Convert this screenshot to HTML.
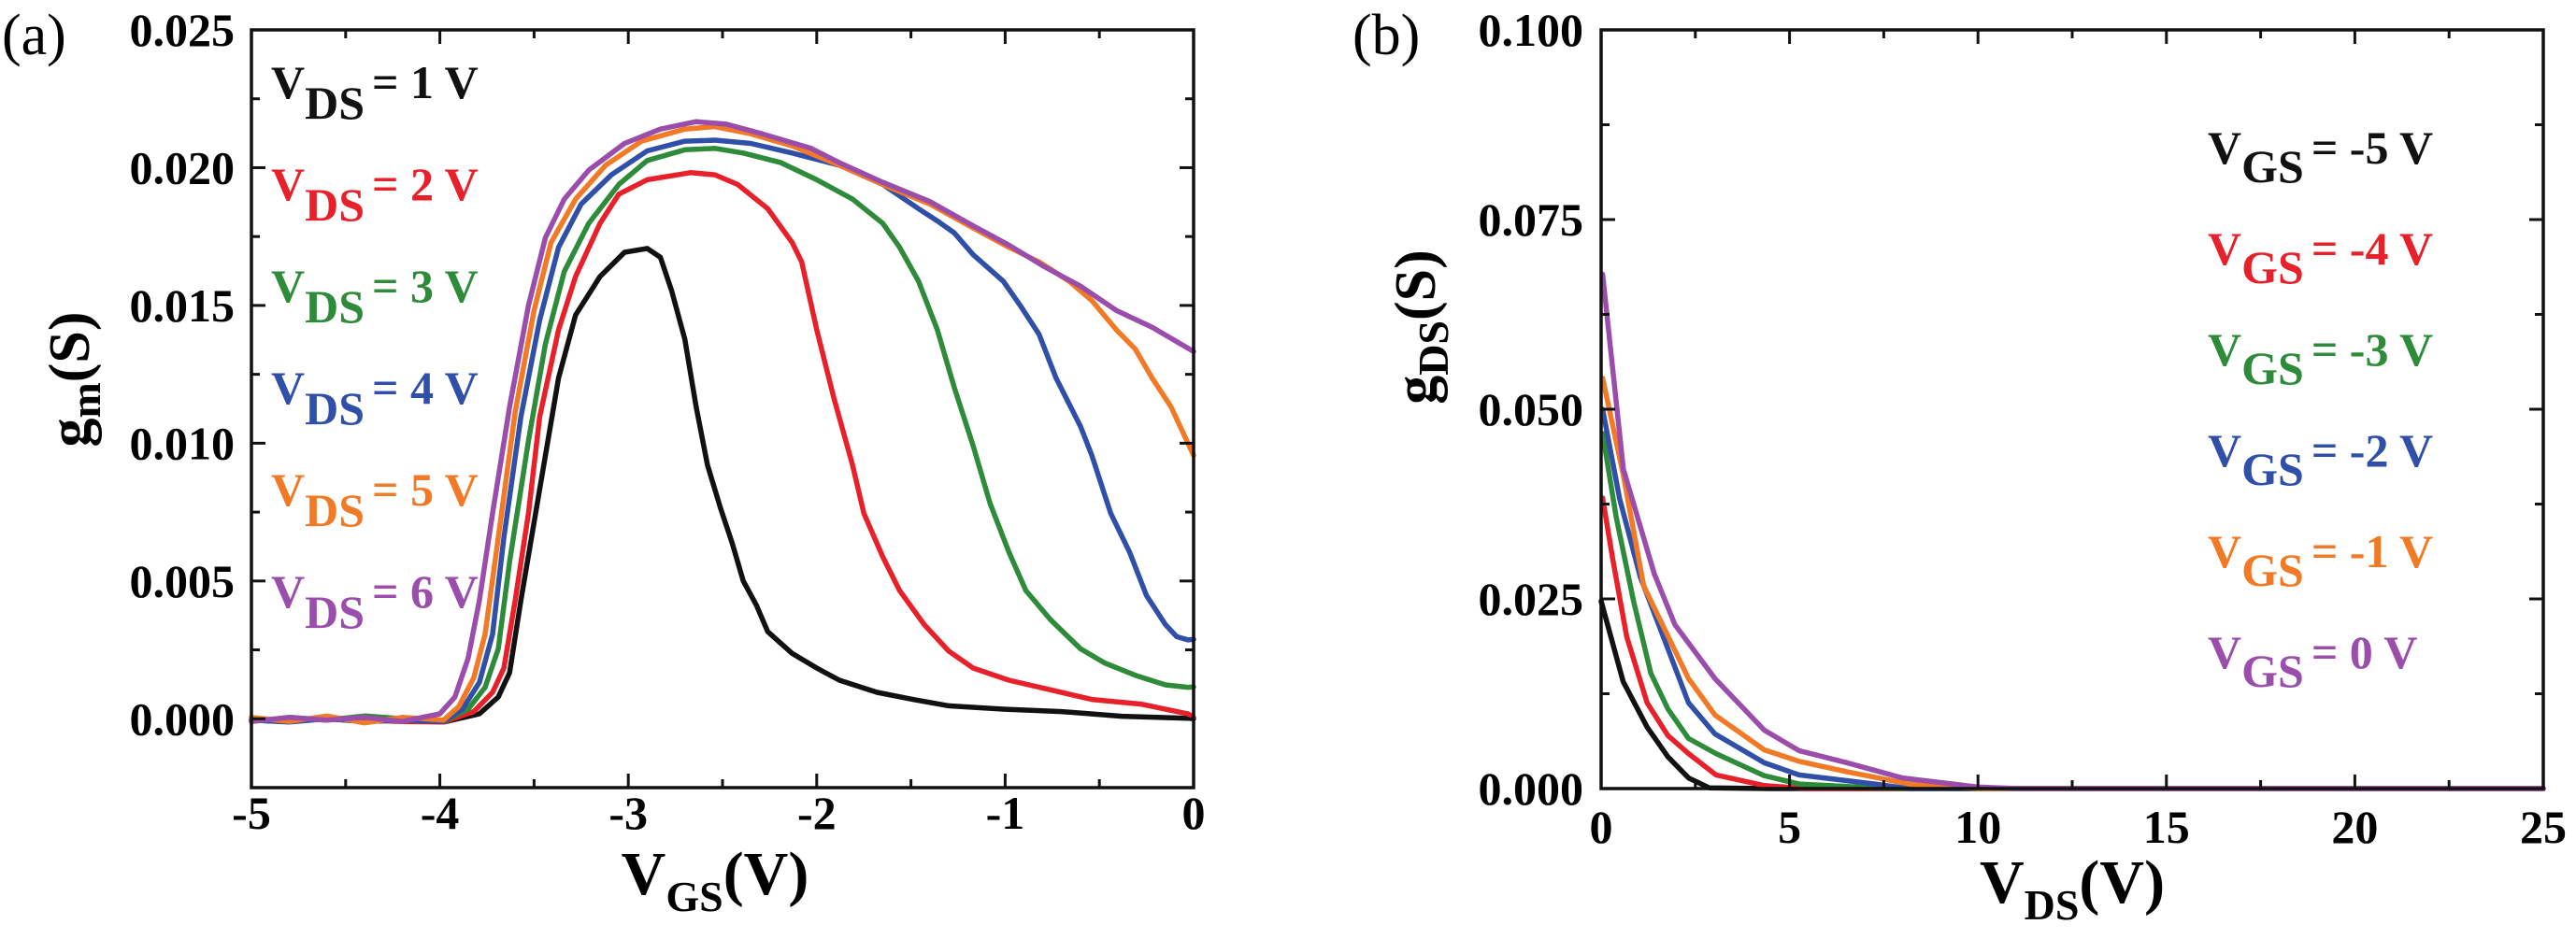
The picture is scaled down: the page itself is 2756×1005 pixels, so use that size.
<!DOCTYPE html>
<html><head><meta charset="utf-8"><style>
html,body{margin:0;padding:0;background:#fff;}
svg{display:block;font-family:"Liberation Serif",serif;}
</style></head><body>
<svg id="fig" width="2756" height="1005" viewBox="0 0 2756 1005" xmlns="http://www.w3.org/2000/svg">
<rect width="2756" height="1005" fill="#fff"/>
<text x="2" y="58" font-size="62">(a)</text>
<text x="1447" y="58" font-size="62">(b)</text>
<text transform="translate(95,406) rotate(-90)" text-anchor="middle" font-size="62" font-weight="bold">g<tspan font-size="46" dy="12">m</tspan><tspan dy="-12">(S)</tspan></text>
<text x="765" y="957" text-anchor="middle" font-size="66" font-weight="bold">V<tspan font-size="46" dy="18">GS</tspan><tspan dy="-18">(V)</tspan></text>
<text transform="translate(1535,350) rotate(-90)" text-anchor="middle" font-size="62" font-weight="bold">g<tspan font-size="46" dy="14">DS</tspan><tspan dy="-14">(S)</tspan></text>
<text x="2217" y="966" text-anchor="middle" font-size="66" font-weight="bold">V<tspan font-size="46" dy="18">DS</tspan><tspan dy="-18">(V)</tspan></text>
<g id="pa"></g>
<g id="pb"></g>
</svg>
<script>
// ---- Panel (a) data: gm (mS) vs VGS (V) ----
const aLegendVal = ['1','2','3','4','5','6'];
const aColors = ['#111111','#e8202a','#2e8b3a','#2f4fa8','#f27a26','#9b4dab'];
const aX1 = [-5,-4.8,-4.6,-4.4,-4.2,-3.98,-3.79,-3.69,-3.63,-3.57,-3.47,-3.37,-3.28,-3.15,-3.02,-2.90,-2.83,-2.77,-2.70,-2.64,-2.58,-2.51,-2.45,-2.39,-2.32,-2.26,-2.13,-2.00,-1.88,-1.68,-1.49,-1.30,-1.01,-0.70,-0.38,-0.03,0];
const aY1 = [-0.05,-0.1,0.0,-0.1,-0.05,-0.12,0.18,0.79,1.67,4.30,8.33,12.37,14.65,16.05,16.93,17.07,16.75,15.53,13.77,11.32,9.21,7.63,6.40,5.00,4.12,3.16,2.37,1.84,1.40,0.96,0.70,0.47,0.35,0.26,0.09,0.02,0.0];
const aX2 = [-5,-4.8,-4.6,-4.4,-4.2,-3.98,-3.82,-3.72,-3.66,-3.60,-3.53,-3.47,-3.37,-3.28,-3.15,-3.05,-2.90,-2.67,-2.54,-2.42,-2.26,-2.13,-2.08,-2.00,-1.91,-1.81,-1.75,-1.65,-1.56,-1.43,-1.30,-1.17,-0.98,-0.76,-0.54,-0.28,-0.03,0];
const aY2 = [0.0,-0.1,0.05,-0.05,-0.1,-0.12,0.26,0.96,1.84,4.30,7.46,10.96,14.12,16.05,17.98,19.04,19.56,19.82,19.74,19.39,18.51,17.28,16.58,14.12,11.67,9.21,7.46,5.88,4.65,3.42,2.46,1.84,1.40,1.05,0.70,0.53,0.18,0.05];
const aX3 = [-5,-4.8,-4.6,-4.4,-4.2,-3.98,-3.85,-3.76,-3.69,-3.63,-3.53,-3.44,-3.34,-3.21,-3.05,-2.90,-2.70,-2.54,-2.39,-2.19,-2.00,-1.81,-1.65,-1.56,-1.46,-1.36,-1.27,-1.17,-1.08,-0.98,-0.89,-0.76,-0.60,-0.47,-0.31,-0.15,-0.03,0];
const aY3 = [-0.1,0.05,-0.05,0.1,0.0,-0.1,0.35,1.14,2.54,5.70,10.09,13.60,16.23,17.98,19.39,20.26,20.65,20.70,20.53,20.18,19.56,18.86,17.98,17.11,15.88,14.12,12.02,9.91,7.81,6.05,4.65,3.60,2.54,2.02,1.58,1.23,1.14,1.16];
const aX4 = [-5,-4.8,-4.6,-4.4,-4.2,-3.98,-3.88,-3.79,-3.72,-3.66,-3.57,-3.47,-3.37,-3.25,-3.09,-2.90,-2.70,-2.54,-2.35,-2.13,-1.88,-1.65,-1.46,-1.36,-1.27,-1.17,-1.01,-0.92,-0.82,-0.73,-0.60,-0.54,-0.44,-0.34,-0.25,-0.15,-0.09,-0.03,0];
const aY4 = [-0.05,-0.12,0.0,-0.1,-0.05,-0.1,0.35,1.32,3.07,6.58,10.96,14.47,17.11,18.68,19.74,20.61,20.96,21.00,20.88,20.53,20.09,19.39,18.51,18.07,17.63,16.84,15.88,15.00,13.95,12.37,10.61,9.56,7.46,6.05,4.47,3.42,2.98,2.86,2.88];
const aX5 = [-5,-4.8,-4.6,-4.4,-4.2,-3.98,-3.90,-3.82,-3.76,-3.69,-3.60,-3.50,-3.41,-3.28,-3.12,-2.93,-2.70,-2.54,-2.35,-2.13,-1.88,-1.65,-1.40,-1.17,-0.98,-0.82,-0.66,-0.54,-0.41,-0.31,-0.22,-0.12,-0.06,0];
const aY5 = [0.05,-0.1,0.1,-0.15,0.05,-0.05,0.44,1.49,3.07,6.58,11.14,14.82,17.28,18.86,20.09,20.96,21.40,21.49,21.23,20.79,20.09,19.39,18.68,17.81,17.11,16.58,15.88,15.18,14.12,13.42,12.37,11.32,10.44,9.56];
const aX6 = [-5,-4.8,-4.6,-4.4,-4.2,-4.0,-3.92,-3.85,-3.79,-3.72,-3.63,-3.53,-3.44,-3.34,-3.21,-3.02,-2.83,-2.64,-2.48,-2.29,-2.03,-1.88,-1.65,-1.40,-1.17,-0.98,-0.79,-0.60,-0.41,-0.22,0];
const aY6 = [-0.1,0.05,-0.05,0.05,-0.1,0.18,0.79,2.19,4.30,7.46,11.32,15.00,17.46,18.86,19.91,20.88,21.40,21.67,21.58,21.23,20.70,20.18,19.47,18.77,17.89,17.19,16.40,15.70,14.82,14.21,13.33];
const aXticks = [-5,-4,-3,-2,-1,0];
const aXtickLabels = ['-5','-4','-3','-2','-1','0'];
const aYticks = [0,0.005,0.010,0.015,0.020,0.025];
const aYtickLabels = ['0.000','0.005','0.010','0.015','0.020','0.025'];

// ---- Panel (b) data: gDS (mS) vs VDS (V) ----
const bLegendVal = ['-5','-4','-3','-2','-1','0'];
const bColors = ['#111111','#e8202a','#2e8b3a','#2f4fa8','#f27a26','#9b4dab'];
const bX1 = [0,0.585,1.22,1.77,2.32,2.87,4.5,25];
const bY1 = [24.7,14.1,8.1,4.2,1.4,0.1,0,0];
const bX2 = [0.04,0.31,0.68,1.22,1.77,2.32,3.05,4.33,5.43,25];
const bY2 = [38.3,30.2,20.0,11.3,7.0,4.6,1.8,0.4,0,0];
const bX3 = [0.04,0.4,0.86,1.32,1.77,2.32,3.05,4.33,5.25,7.26,8.17,25];
const bY3 = [46.8,35.8,24.7,15.2,10.5,6.6,4.6,1.7,0.6,0.1,0,0];
const bX4 = [0.04,0.49,1.04,1.59,2.32,3.02,4.33,5.25,7.26,8.17,25];
const bY4 = [50.0,38.2,27.9,20.8,11.3,7.2,3.4,1.8,0.6,0,0];
const bX5 = [0.04,0.59,1.13,2.32,3.02,4.33,5.25,6.53,8.17,10.0,25];
const bY5 = [54.1,41.3,26.7,14.5,9.7,5.1,3.6,2.2,0.6,0,0];
const bX6 = [0.04,0.59,1.41,1.96,3.02,4.33,5.25,6.53,7.99,10.0,11.1,25];
const bY6 = [67.8,42.1,28.3,21.6,14.5,7.7,5.0,3.4,1.4,0.2,0,0];
const bXticks = [0,5,10,15,20,25];
const bXtickLabels = ['0','5','10','15','20','25'];
const bYticks = [0,0.025,0.05,0.075,0.1];
const bYtickLabels = ['0.000','0.025','0.050','0.075','0.100'];

const NS='http://www.w3.org/2000/svg';
function mk(tag,attrs,parent){const e=document.createElementNS(NS,tag);for(const k in attrs)e.setAttribute(k,attrs[k]);if(parent)parent.appendChild(e);return e;}

function drawPanel(g,cfg){
  const {L,R,T,B,xmin,xmax,ymin,ymax}=cfg;
  const sx=v=>L+(v-xmin)/(xmax-xmin)*(R-L);
  const sy=v=>B-(v-ymin)/(ymax-ymin)*(B-T);
  cfg.series.forEach((s,i)=>{
    const pts=s.x.map((v,j)=>sx(v).toFixed(1)+','+sy(s.y[j]/1000).toFixed(1)).join(' ');
    const p=mk('polyline',{points:pts,fill:'none',stroke:cfg.colors[i],'stroke-width':cfg.lw,'stroke-linejoin':'round','stroke-linecap':'round'},g);
    
    
  });
  const fr=mk('rect',{x:L,y:T,width:R-L,height:B-T,fill:'none',stroke:'#111','stroke-width':3.5},g);
  
  
  const xt=cfg.xticks, dx=(xt[1]-xt[0])/2;
  for(let k=0;xmin+k*dx<=xmax+1e-9;k++){
    const v=xmin+k*dx;
    const major=(k%2===0);
    const len=major?15:9, x=sx(v);
    mk('line',{x1:x,y1:B,x2:x,y2:B-len,stroke:'#111','stroke-width':3},g);
    mk('line',{x1:x,y1:T,x2:x,y2:T+len,stroke:'#111','stroke-width':3},g);
  }
  xt.forEach((v,i)=>{
    const t=mk('text',{x:sx(v),y:cfg.xlabY,'text-anchor':'middle','font-size':50,'font-weight':'bold'},g);
    t.textContent=cfg.xlabels[i];
    
    
  });
  const yt=cfg.yticks, dy=(yt[1]-yt[0])/2;
  for(let k=-4;k<40;k++){
    const v=yt[0]+k*dy; if(v<ymin-1e-9||v>ymax+1e-9)continue;
    const major=(Math.abs(k)%2===0), len=major?15:9, y=sy(v);
    mk('line',{x1:L,y1:y,x2:L+len,y2:y,stroke:'#111','stroke-width':3},g);
    mk('line',{x1:R,y1:y,x2:R-len,y2:y,stroke:'#111','stroke-width':3},g);
  }
  yt.forEach((v,i)=>{
    const t=mk('text',{x:cfg.ylabX,y:sy(v)+17,'text-anchor':'end','font-size':50,'font-weight':'bold'},g);
    t.textContent=cfg.ylabels[i];
    
    
  });
  cfg.legend.forEach((val,i)=>{
    const y=cfg.legY+i*cfg.legDy;
    const t=mk('text',{x:cfg.legX,y:y,'font-size':cfg.legFs,'font-weight':'bold',fill:cfg.colors[i]},g);
    
    
    const a=mk('tspan',{},t);a.textContent='V';
    const b=mk('tspan',{dy:cfg.subDy},t);b.textContent=cfg.sub;
    const c=mk('tspan',{dy:-cfg.subDy,dx:8},t);c.textContent='= '+val+' V';
  });
}

drawPanel(document.getElementById('pa'),{prefix:'a',L:269,R:1277,T:32,B:843,xmin:-5,xmax:0,ymin:-0.0025,ymax:0.025,
  lw:5.5,colors:aColors,series:[{x:aX1,y:aY1},{x:aX2,y:aY2},{x:aX3,y:aY3},{x:aX4,y:aY4},{x:aX5,y:aY5},{x:aX6,y:aY6}],
  xticks:aXticks,xlabels:aXtickLabels,yticks:aYticks,ylabels:aYtickLabels,xlabY:887,ylabX:251,
  legend:aLegendVal,legX:290,legY:105,legDy:109,legFs:50,sub:'DS',subDy:22});
drawPanel(document.getElementById('pb'),{prefix:'b',L:1713,R:2721,T:32,B:844,xmin:0,xmax:25,ymin:0,ymax:0.1,
  lw:5.5,colors:bColors,series:[{x:bX1,y:bY1},{x:bX2,y:bY2},{x:bX3,y:bY3},{x:bX4,y:bY4},{x:bX5,y:bY5},{x:bX6,y:bY6}],
  xticks:bXticks,xlabels:bXtickLabels,yticks:bYticks,ylabels:bYtickLabels,xlabY:902,ylabX:1694,
  legend:bLegendVal,legX:2362,legY:175,legDy:108,legFs:50,sub:'GS',subDy:20});
</script>
</body></html>
